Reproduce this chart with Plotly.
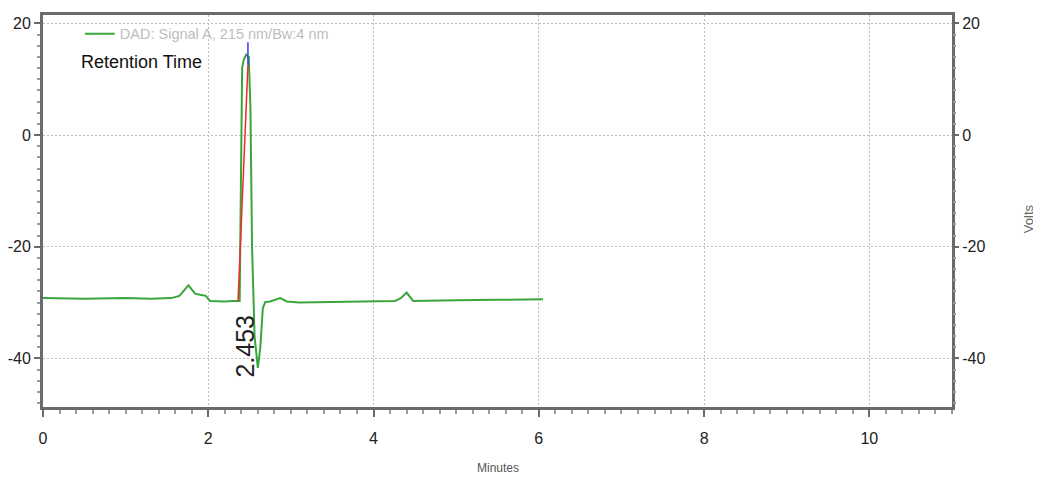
import plotly.graph_objects as go

# ---- data ----
time_min = [0.0, 0.5, 1.0, 1.3, 1.55, 1.65, 1.76, 1.84, 1.9, 1.97, 2.02, 2.1, 2.2, 2.3, 2.38,
            2.41, 2.43, 2.46, 2.49, 2.51, 2.53, 2.56, 2.60, 2.63, 2.66, 2.69, 2.75, 2.87,
            2.95, 3.1, 3.4, 3.71, 4.0, 4.26, 4.33, 4.40, 4.48, 4.7, 5.0, 5.5, 6.05]
signal = [-29.2, -29.3, -29.2, -29.3, -29.2, -28.8, -26.9, -28.4, -28.6, -28.8, -29.7, -29.8,
          -29.8, -29.7, -29.7, 12.0, 13.5, 14.4, 14.0, 5.0, -20.0, -36.0, -41.7, -38.0, -31.0,
          -29.9, -29.8, -29.2, -29.8, -30.0, -29.9, -29.8, -29.8, -29.7, -29.2, -28.2, -29.7,
          -29.7, -29.6, -29.5, -29.4]
baseline_t = [2.36, 2.48]
baseline_y = [-29.8, 12.5]
marker_t = [2.48, 2.48]
marker_y = [12.5, 16.6]
peak_rt = 2.453
legend_name = "DAD: Signal A, 215 nm/Bw:4 nm"
x_ticks = [0, 2, 4, 6, 8, 10]
y_ticks = [20, 0, -20, -40]
y_tick_text = ["20", "0", "-20", "-40"]
x_range = [0, 11]
y_range = [-48.7, 21.5]

FONT = "Liberation Sans Narrow, Liberation Sans, Arial, sans-serif"
AXIS_COL = "#6a6a6a"
GRID_COL = "#bdbdbd"
GRID_DASH = "2px,2px"

fig = go.Figure()
fig.add_trace(go.Scatter(x=time_min, y=signal, mode="lines", name=legend_name,
                         line=dict(color="#3aa53a", width=2), showlegend=True))
fig.add_trace(go.Scatter(x=baseline_t, y=baseline_y, mode="lines", showlegend=False,
                         line=dict(color="#ee2b2b", width=1.5)))
fig.add_trace(go.Scatter(x=marker_t, y=marker_y, mode="lines", showlegend=False,
                         line=dict(color="#3b3bf0", width=1.5)))
# dummy trace on right axis to force it to draw
fig.add_trace(go.Scatter(x=[None], y=[None], yaxis="y2", showlegend=False, hoverinfo="skip"))

# page body has an 8px default margin: size the figure so it fits the 1041x479 window
fig.update_layout(
    width=1033, height=471,
    margin=dict(l=35, r=89, t=7, b=72, autoexpand=False),
    paper_bgcolor="white", plot_bgcolor="white",
    font=dict(family=FONT, color="#222222", size=16),
    xaxis=dict(range=x_range, tickvals=x_ticks, showgrid=True, gridcolor=GRID_COL,
               griddash=GRID_DASH, gridwidth=1, zeroline=False, automargin=False,
               showline=True, linecolor=AXIS_COL, linewidth=3, mirror=True,
               ticks="outside", ticklen=7, tickwidth=2, tickcolor=AXIS_COL,
               ticklabelstandoff=8,
               minor=dict(dtick=0.2, ticks="outside", ticklen=4, tickcolor="#999999", showgrid=False),
               tickfont=dict(size=16, family=FONT, color="#222222")),
    yaxis=dict(range=y_range, tickvals=y_ticks, ticktext=y_tick_text, showgrid=True,
               gridcolor=GRID_COL, automargin=False,
               griddash=GRID_DASH, gridwidth=1, zeroline=False,
               showline=True, linecolor=AXIS_COL, linewidth=3, mirror=True,
               ticks="outside", ticklen=6, tickwidth=2, tickcolor=AXIS_COL,
               minor=dict(dtick=2, ticks="outside", ticklen=3, tickcolor="#999999", showgrid=False),
               tickfont=dict(size=16, family=FONT, color="#222222")),
    yaxis2=dict(range=y_range, tickvals=y_ticks, ticktext=y_tick_text, overlaying="y",
                side="right", automargin=False,
                showgrid=False, zeroline=False, showline=False,
                ticks="outside", ticklen=6, tickwidth=2, tickcolor=AXIS_COL,
                minor=dict(dtick=2, ticks="outside", ticklen=3, tickcolor="#999999"),
                tickfont=dict(size=16, family=FONT, color="#222222")),
    legend=dict(x=0.0405, y=0.993, xanchor="left", yanchor="top", bgcolor="rgba(0,0,0,0)",
                font=dict(size=14.5, family=FONT, color="#bdbdbd"), itemwidth=30),
    annotations=[
        dict(text="Retention Time", xref="paper", yref="paper", x=0.04, y=0.88,
             xanchor="left", yanchor="middle", showarrow=False,
             font=dict(size=18, family=FONT, color="#111111")),
        dict(text=f"{peak_rt:.3f}", xref="x", yref="y", x=2.45, y=-37.8,
             textangle=-90, showarrow=False, xanchor="center", yanchor="middle",
             font=dict(size=25, family=FONT, color="#222222")),
        dict(text="Minutes", xref="paper", yref="paper", x=0.5, y=-0.156,
             showarrow=False, xanchor="center", yanchor="middle",
             font=dict(size=12, family=FONT, color="#555555")),
        dict(text="Volts", xref="paper", yref="paper", x=1.084, y=0.48,
             textangle=-90, showarrow=False, xanchor="center", yanchor="middle",
             font=dict(size=13, family=FONT, color="#666666")),
    ],
)

fig.write_html("out.html")
